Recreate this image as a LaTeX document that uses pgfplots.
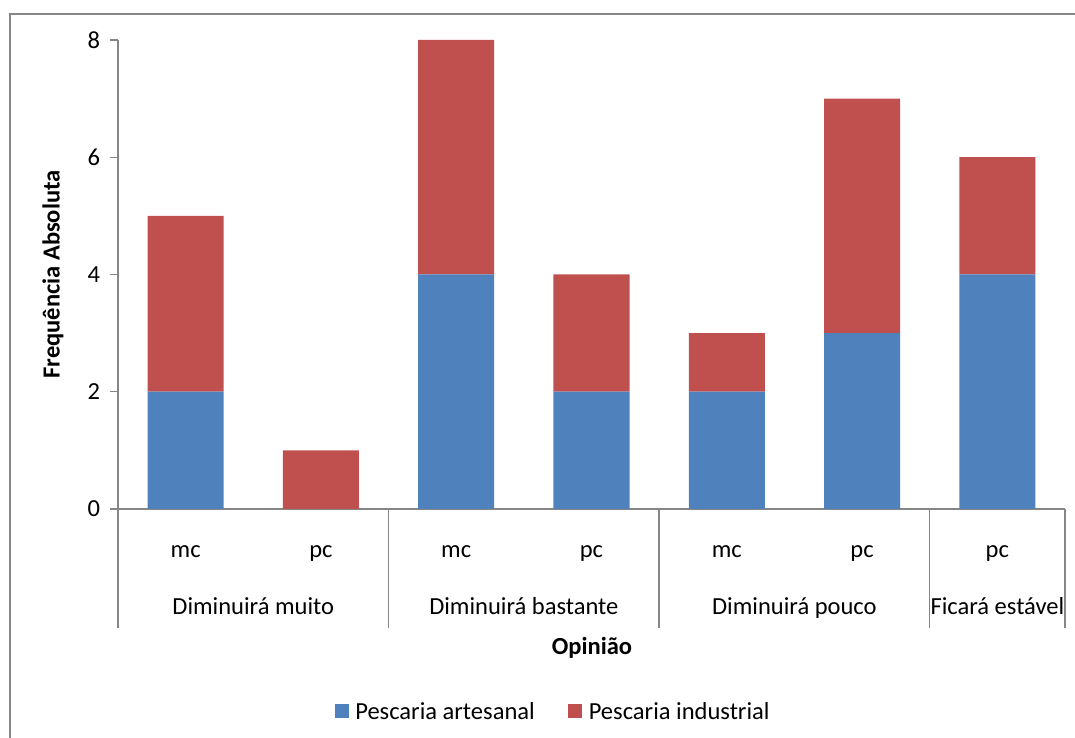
\documentclass[border=0pt]{standalone}
\usepackage{pgfplots}
\pgfplotsset{compat=1.18}
\usepackage{fontspec}
\setmainfont{Carlito}
\definecolor{artblue}{HTML}{4F81BD}
\definecolor{indred}{HTML}{C0504D}
\definecolor{axgray}{HTML}{868686}
\newcommand\mainfs{\fontsize{18.4pt}{21pt}\selectfont}
\begin{document}
\begin{tikzpicture}[font=\mainfs]
\useasboundingbox (0pt,0pt) rectangle (806.25pt,553.5pt);
\draw[axgray, line width=1.2pt] (7.5pt,-20pt) rectangle (830pt,543pt);
\begin{axis}[
  at={(88.5pt,171.75pt)}, anchor=south west,
  scale only axis, width=710.25pt, height=351.75pt,
  xmin=-0.5, xmax=6.5, ymin=0, ymax=8,
  ybar stacked, bar width=0.562,
  ytick={0,2,4,6,8}, xtick=\empty,
  axis x line*=bottom, axis y line*=left,
  axis line style={axgray, line width=1.1pt, -},
  y tick style={axgray, line width=1.1pt},
  major tick length=6pt, tick align=outside,
  /pgf/number format/assume math mode=true,
  tick label style={font=\mainfs},
  yticklabel style={xshift=-4pt},
  clip=false,
  every axis y label/.style={at={(axis description cs:-0.0686,0.5)},rotate=90,anchor=center,font=\mainfs\bfseries},
  every axis x label/.style={at={(axis description cs:0.5005,-0.296)},anchor=center,font=\mainfs\bfseries},
  ylabel={Frequência Absoluta},
  xlabel={Opinião},
  legend image code/.code={\fill[#1] (0pt,-4.5pt) rectangle (10.5pt,6pt); \path (13.5pt,0pt);},
  legend style={at={(axis description cs:0.4598,-0.4328)}, anchor=center, draw=none,
    font=\mainfs,
    /tikz/every even column/.append style={column sep=23pt}},
  legend columns=2,
]
\addplot[fill=artblue, draw=none] coordinates {(0,2) (1,0) (2,4) (3,2) (4,2) (5,3) (6,4)};
\addplot[fill=indred, draw=none] coordinates {(0,3) (1,1) (2,4) (3,2) (4,1) (5,4) (6,2)};
\legend{Pescaria artesanal, Pescaria industrial}
\draw[axgray, line width=1.1pt] (axis cs:-0.5,0) -- ++(0pt,-89.25pt);
\draw[axgray, line width=1.1pt] (axis cs:1.5,0) -- ++(0pt,-89.25pt);
\draw[axgray, line width=1.1pt] (axis cs:3.5,0) -- ++(0pt,-89.25pt);
\draw[axgray, line width=1.1pt] (axis cs:5.5,0) -- ++(0pt,-89.25pt);
\draw[axgray, line width=1.1pt] (axis cs:6.5,0) -- ++(0pt,-89.25pt);
\node[anchor=base] at (axis cs:0,0) [yshift=-36.75pt] {mc};
\node[anchor=base] at (axis cs:1,0) [yshift=-36.75pt] {pc};
\node[anchor=base] at (axis cs:2,0) [yshift=-36.75pt] {mc};
\node[anchor=base] at (axis cs:3,0) [yshift=-36.75pt] {pc};
\node[anchor=base] at (axis cs:4,0) [yshift=-36.75pt] {mc};
\node[anchor=base] at (axis cs:5,0) [yshift=-36.75pt] {pc};
\node[anchor=base] at (axis cs:6,0) [yshift=-36.75pt] {pc};
\node[anchor=base] at (axis cs:0.5,0) [yshift=-79.5pt] {Diminuirá muito};
\node[anchor=base] at (axis cs:2.5,0) [yshift=-79.5pt] {Diminuirá bastante};
\node[anchor=base] at (axis cs:4.5,0) [yshift=-79.5pt] {Diminuirá pouco};
\node[anchor=base] at (axis cs:6,0) [yshift=-79.5pt] {Ficará estável};
\end{axis}
\end{tikzpicture}
\end{document}
